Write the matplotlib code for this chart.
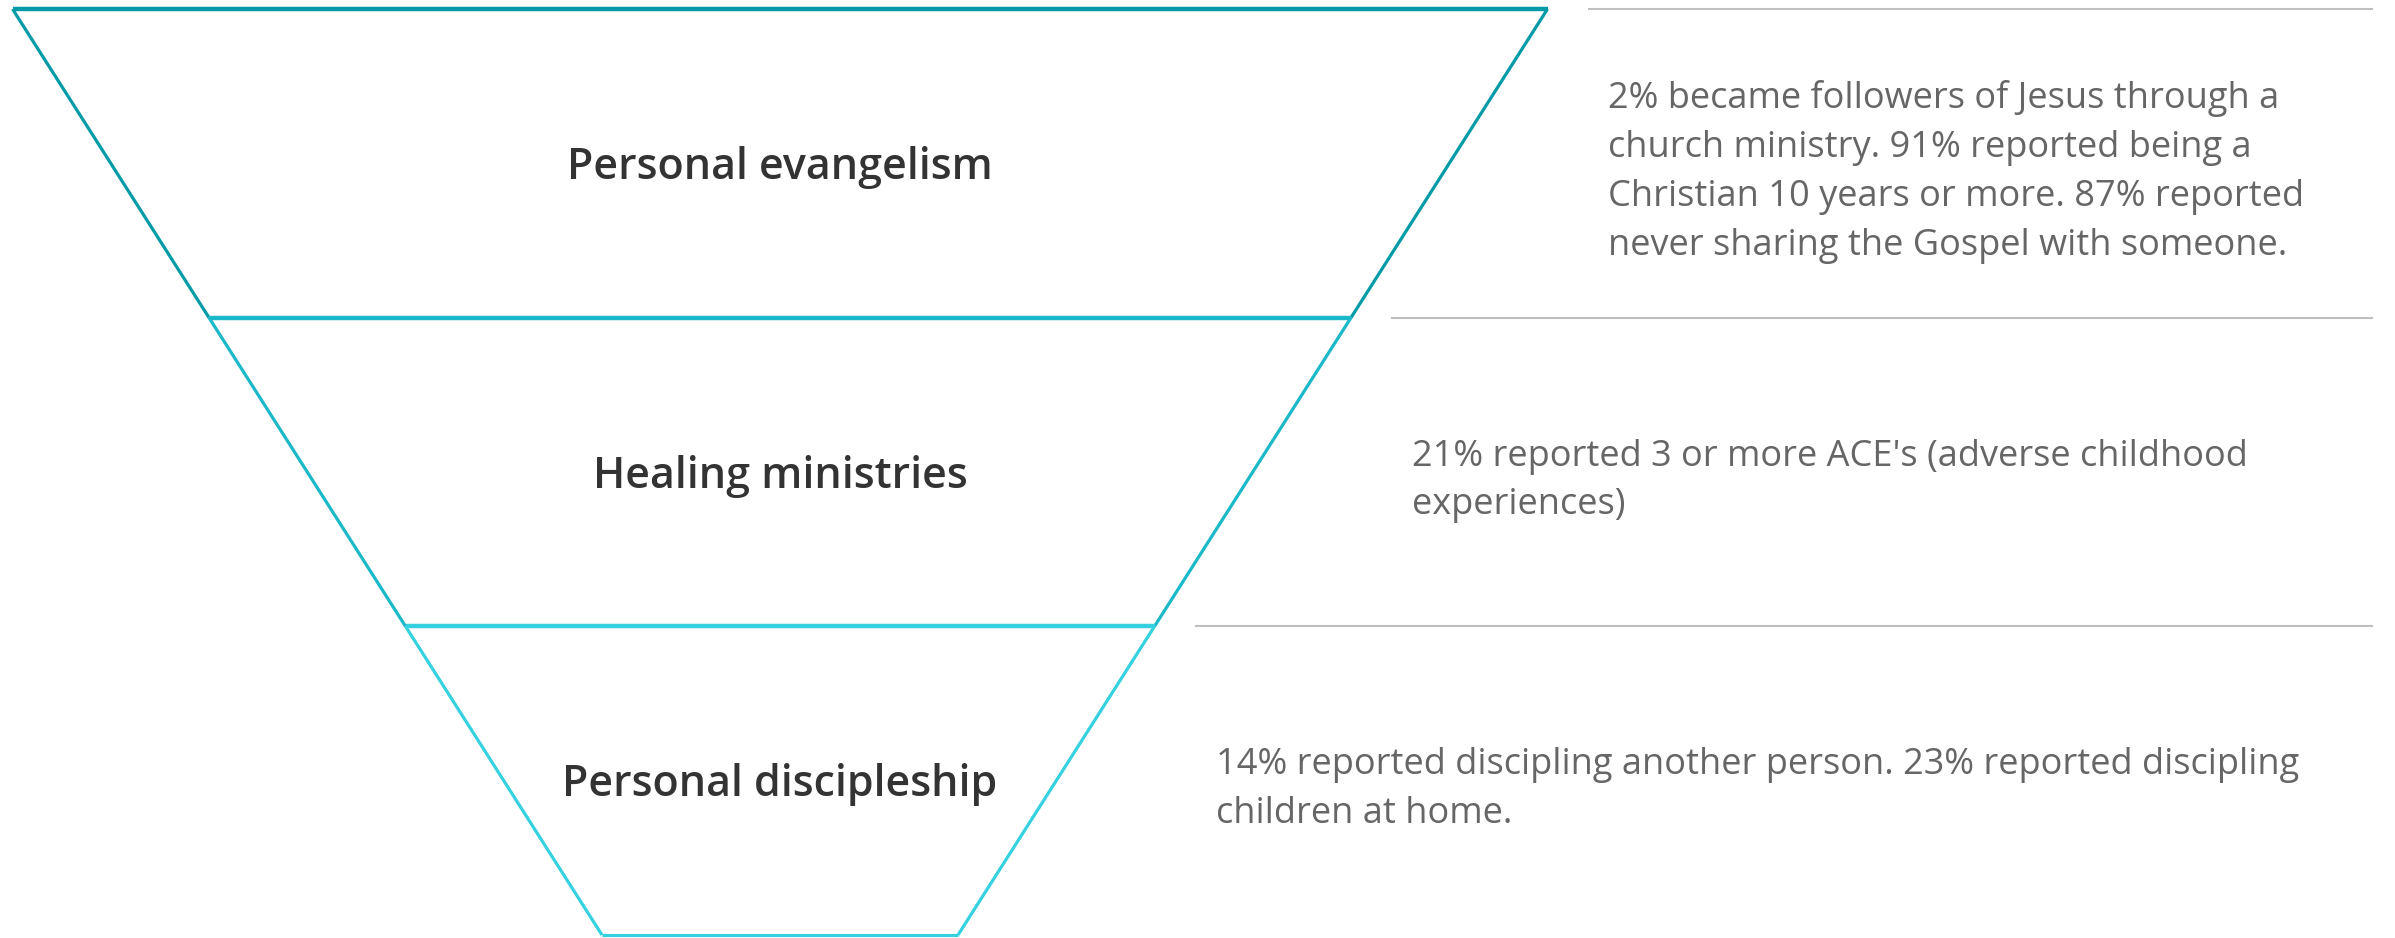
import matplotlib
matplotlib.use('Agg')
import matplotlib.pyplot as plt

# funnel stages (top to bottom) and the notes written beside them
stages = ['Personal evangelism', 'Healing ministries', 'Personal discipleship']
notes = [
    '2% became followers of Jesus through a\nchurch ministry. 91% reported being a\n'
    'Christian 10 years or more. 87% reported\nnever sharing the Gospel with someone.',
    "21% reported 3 or more ACE's (adverse childhood\nexperiences)",
    '14% reported discipling another person. 23% reported discipling\nchildren at home.',
]
stage_colors = ['#009ba7', '#1bb8c9', '#35d1e0']

W, H = 2395, 938
TOP_Y, BOT_Y = 9, 935
CX = 780
TOP_W, BOT_W = 1535, 356
RULE_END = 2372
FONT = 'Open Sans'

fig = plt.figure(figsize=(W / 100, H / 100), dpi=100)
ax = fig.add_axes([0, 0, 1, 1])
ax.set_xlim(0, W)
ax.set_ylim(H, 0)
ax.axis('off')

n = len(stages)
step = (BOT_Y - TOP_Y) / n


def half_width(y):
    t = (y - TOP_Y) / (BOT_Y - TOP_Y)
    return (TOP_W + (BOT_W - TOP_W) * t) / 2


for i, (name, note, col) in enumerate(zip(stages, notes, stage_colors)):
    y0 = TOP_Y + i * step
    y1 = y0 + step
    h0, h1 = half_width(y0), half_width(y1)
    # side edges
    ax.plot([CX - h0, CX - h1], [y0, y1], color=col, lw=2.3, solid_capstyle='butt')
    ax.plot([CX + h0, CX + h1], [y0, y1], color=col, lw=2.3, solid_capstyle='butt')
    # top edge of this stage
    ax.plot([CX - h0, CX + h0], [y0, y0], color=col, lw=3.2, solid_capstyle='butt')
    if i == n - 1:
        ax.plot([CX - h1, CX + h1], [y1, y1], color=col, lw=2.3, solid_capstyle='butt')

    ym = (y0 + y1) / 2
    ax.text(CX, ym + 4, name, ha='center', va='center', fontsize=31,
            fontweight='semibold', color='#333333', family=FONT)

    # grey rule and note on the right
    rx = CX + h0 + 41
    ax.plot([rx, RULE_END], [y0, y0], color='#c0c0c0', lw=1.5)
    ax.text(rx + 20, ym + 9, note, ha='left', va='center', fontsize=26,
            color='#666666', family=FONT, linespacing=1.48)

fig.savefig('out.png', dpi=100)
